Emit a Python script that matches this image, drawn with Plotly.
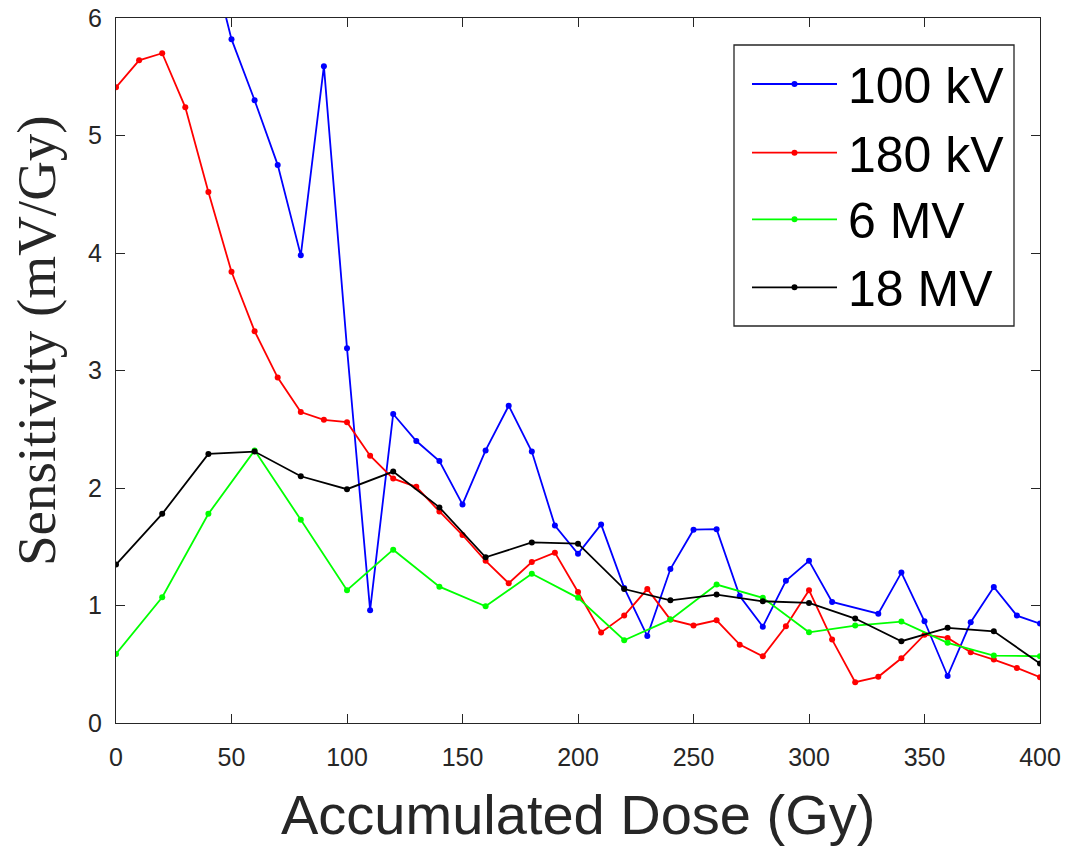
import plotly.graph_objects as go

# ---- data ----
series_names = ["100 kV", "180 kV", "6 MV", "18 MV"]
series_colors = ["#0000FF", "#FF0000", "#00FF00", "#000000"]

dose_100kv = [40, 50, 60, 70, 80, 90, 100, 110, 120, 130, 140, 150, 160, 170, 180, 190, 200,
              210, 220, 230, 240, 250, 260, 270, 280, 290, 300, 310, 330, 340, 350, 360,
              370, 380, 390, 400]
sens_100kv = [6.6, 5.82, 5.30, 4.75, 3.98, 5.59, 3.19, 0.96, 2.63, 2.40, 2.23, 1.86, 2.32,
              2.70, 2.31, 1.68, 1.44, 1.69, 1.15, 0.74, 1.31, 1.645, 1.65, 1.08, 0.82, 1.21,
              1.38, 1.03, 0.93, 1.28, 0.866, 0.40, 0.857, 1.158, 0.914, 0.846]

dose_180kv = list(range(0, 401, 10))
sens_180kv = [5.41, 5.64, 5.70, 5.24, 4.52, 3.84, 3.335, 2.94, 2.646, 2.58, 2.56, 2.275,
              2.08, 2.01, 1.80, 1.60, 1.38, 1.19, 1.37, 1.45, 1.115, 0.77, 0.914, 1.14,
              0.88, 0.83, 0.874, 0.667, 0.568, 0.823, 1.13, 0.71, 0.347, 0.393, 0.551,
              0.752, 0.724, 0.602, 0.54, 0.469, 0.39]

dose_6mv = list(range(0, 401, 20))
sens_6mv = [0.588, 1.07, 1.78, 2.32, 1.73, 1.13, 1.475, 1.16, 0.993, 1.27, 1.065, 0.704,
            0.88, 1.178, 1.065, 0.772, 0.829, 0.863, 0.682, 0.574, 0.568]

dose_18mv = list(range(0, 401, 20))
sens_18mv = [1.348, 1.78, 2.29, 2.31, 2.10, 1.99, 2.14, 1.835, 1.41, 1.537, 1.526, 1.14,
             1.044, 1.093, 1.036, 1.022, 0.889, 0.696, 0.81, 0.78, 0.506]

x_ticks = [0, 50, 100, 150, 200, 250, 300, 350, 400]
y_ticks = [0, 1, 2, 3, 4, 5, 6]

xs = [dose_100kv, dose_180kv, dose_6mv, dose_18mv]
ys = [sens_100kv, sens_180kv, sens_6mv, sens_18mv]

fig = go.Figure()
for name, col, x, y in zip(series_names, series_colors, xs, ys):
    fig.add_trace(go.Scatter(x=x, y=y, name=name, mode="lines+markers",
                             line=dict(color=col, width=1.8),
                             marker=dict(color=col, size=6),
                             showlegend=False))

axis_col = "#262626"
tick_font = dict(family="Liberation Sans, Arial, sans-serif", size=25, color=axis_col)

fig.update_xaxes(range=[0, 400], tickvals=x_ticks, ticks="inside", ticklen=9,
                 tickcolor=axis_col, showline=True, linecolor=axis_col, linewidth=1.3,
                 mirror="ticks", showgrid=False, zeroline=False, tickfont=tick_font,
                 ticklabelstandoff=12, ticklabeloverflow="allow", automargin=False)
fig.update_yaxes(range=[0, 6], tickvals=y_ticks, ticks="inside", ticklen=9,
                 tickcolor=axis_col, showline=True, linecolor=axis_col, linewidth=1.3,
                 mirror="ticks", showgrid=False, zeroline=False, tickfont=tick_font,
                 ticklabelstandoff=8, ticklabeloverflow="allow", automargin=False)

# plot-area geometry in page pixels, used to place the decorations
pw, ph, pl, pt = 924.0, 705.0, 116.0, 18.0
def px(xp):
    return (xp - pl) / pw
def py(yp):
    return (pt + ph - yp) / ph

annotations = [
    dict(text="Accumulated Dose (Gy)", xref="paper", yref="paper", x=px(578), y=py(848),
         xanchor="center", yanchor="bottom", showarrow=False,
         font=dict(family="Liberation Sans, Arial, sans-serif", size=56, color=axis_col)),
    dict(text="Sensitivity (mV/Gy)", xref="paper", yref="paper", x=px(36), y=py(341),
         xanchor="center", yanchor="middle", showarrow=False, textangle=-90,
         font=dict(family="Liberation Serif, Times New Roman, serif", size=55, color=axis_col)),
]

shapes = [dict(type="rect", xref="paper", yref="paper", x0=px(734), x1=px(1014),
               y0=py(326), y1=py(45), line=dict(color=axis_col, width=1.3),
               fillcolor="white", layer="above")]
row_y = [84, 152.7, 219.3, 287.3]
for name, col, ry in zip(series_names, series_colors, row_y):
    shapes.append(dict(type="line", xref="paper", yref="paper", x0=px(752), x1=px(837),
                       y0=py(ry), y1=py(ry), line=dict(color=col, width=1.8), layer="above"))
    shapes.append(dict(type="circle", xref="paper", yref="paper", xsizemode="pixel",
                       ysizemode="pixel", xanchor=px(794.5), yanchor=py(ry),
                       x0=-3, x1=3, y0=-3, y1=3, fillcolor=col, line=dict(color=col, width=0),
                       layer="above"))
    annotations.append(dict(text=name, xref="paper", yref="paper", x=px(846), y=py(ry + 2),
                            xanchor="left", yanchor="middle", showarrow=False,
                            font=dict(family="Liberation Sans, Arial, sans-serif", size=50,
                                      color="#000000")))

fig.update_layout(width=1068, height=851, margin=dict(l=116, r=28, t=18, b=128,
                                                      autoexpand=False),
                  paper_bgcolor="white", plot_bgcolor="white",
                  annotations=annotations, shapes=shapes, showlegend=False)

# remove the default 8px page margin so the figure fills the window exactly
fig.write_html("out.html", config={"displayModeBar": False},
               post_script="document.body.style.margin='0';document.body.style.overflow='hidden';")
